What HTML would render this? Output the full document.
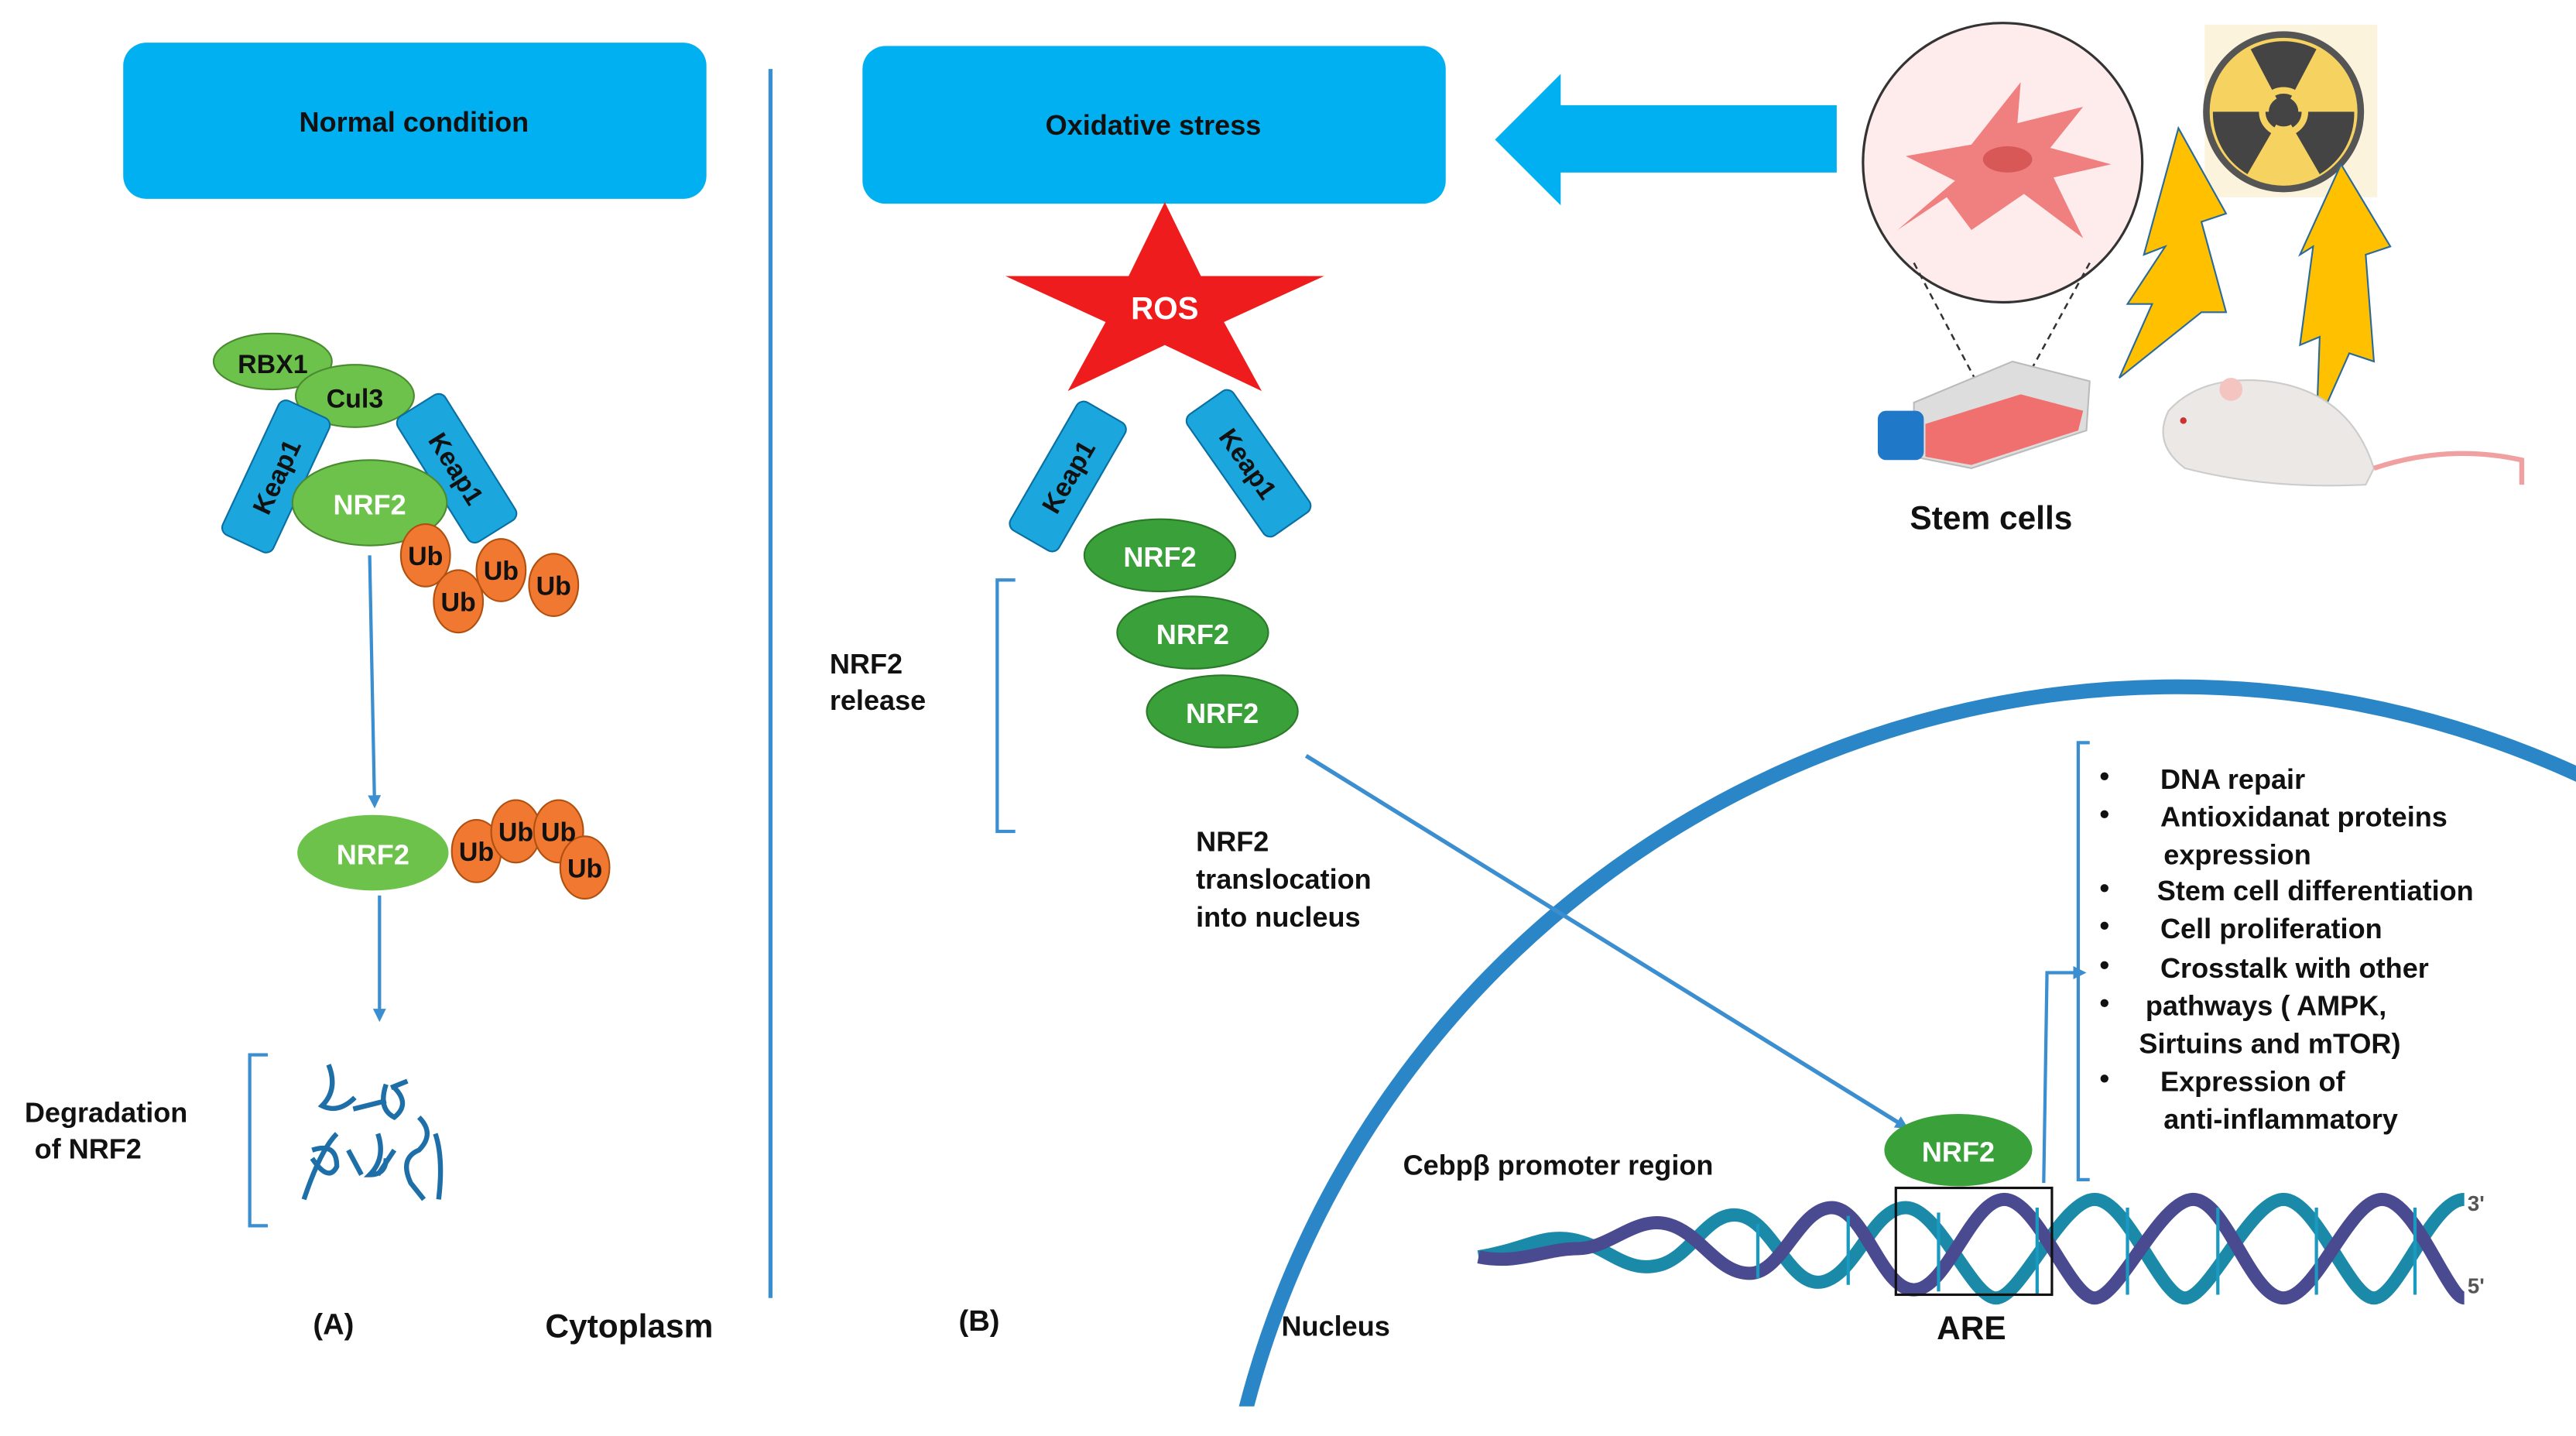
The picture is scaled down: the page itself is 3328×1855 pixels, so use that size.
<!DOCTYPE html>
<html><head><meta charset="utf-8"><style>
html,body{margin:0;padding:0;background:#fff;overflow:hidden;width:3328px;height:1855px;}
svg{display:block;}
text{font-family:"Liberation Sans",sans-serif;font-weight:bold;}
</style></head><body>
<svg width="3328" height="1855" viewBox="0 0 1568 874" xmlns="http://www.w3.org/2000/svg">
<defs>
<marker id="ah" markerWidth="8" markerHeight="8" refX="6" refY="4" orient="auto" markerUnits="userSpaceOnUse"><path d="M0,0 L8,4 L0,8 z" fill="#3b8fd0"/></marker>
<clipPath id="cl"><rect x="0" y="0" width="1568" height="856"/></clipPath>
</defs>
<rect x="75" y="26" width="355" height="95" rx="14" fill="#00b0f0"/>
<text x="252" y="80" font-size="17" text-anchor="middle" fill="#111">Normal condition</text>
<rect x="525" y="28" width="355" height="96" rx="14" fill="#00b0f0"/>
<text x="702" y="82" font-size="17" text-anchor="middle" fill="#111">Oxidative stress</text>
<path d="M1118,64 L950,64 L950,45 L910,85 L950,125 L950,105 L1118,105 z" fill="#00b0f0"/>
<line x1="469" y1="42" x2="469" y2="790" stroke="#3b8fd0" stroke-width="2.5"/>
<ellipse cx="166" cy="220" rx="36" ry="17" fill="#6cc24a" stroke="#4a8a30"/>
<text x="166" y="227" font-size="16" text-anchor="middle" fill="#111" font-weight="normal">RBX1</text>
<ellipse cx="216" cy="241" rx="36" ry="19" fill="#6cc24a" stroke="#4a8a30"/>
<text x="216" y="248" font-size="16" text-anchor="middle" fill="#111" font-weight="normal">Cul3</text>
<g transform="translate(168,290) rotate(-65)"><rect x="-45" y="-17" width="90" height="34" rx="5" fill="#1ba6de" stroke="#0a6fa0"/><text x="0" y="6" font-size="16" text-anchor="middle" fill="#111" font-weight="normal">Keap1</text></g>
<g transform="translate(278,285) rotate(58)"><rect x="-45" y="-17" width="90" height="34" rx="5" fill="#1ba6de" stroke="#0a6fa0"/><text x="0" y="6" font-size="16" text-anchor="middle" fill="#111" font-weight="normal">Keap1</text></g>
<ellipse cx="225" cy="306" rx="47" ry="26" fill="#6cc24a" stroke="#4a8a30"/>
<text x="225" y="313" font-size="17" text-anchor="middle" fill="#fff">NRF2</text>
<g fill="#f07830" stroke="#b05010">
<ellipse cx="259" cy="338" rx="15" ry="19"/><ellipse cx="279" cy="366" rx="15" ry="19"/><ellipse cx="305" cy="347" rx="15" ry="19"/><ellipse cx="337" cy="356" rx="15" ry="19"/></g>
<g font-size="16" text-anchor="middle" fill="#111" font-weight="normal">
<text x="259" y="344">Ub</text><text x="279" y="372">Ub</text><text x="305" y="353">Ub</text><text x="337" y="362">Ub</text></g>
<line x1="225" y1="338" x2="228" y2="490" stroke="#3b8fd0" stroke-width="2" marker-end="url(#ah)"/>
<ellipse cx="227" cy="519" rx="46" ry="23" fill="#6cc24a"/>
<text x="227" y="526" font-size="17" text-anchor="middle" fill="#fff">NRF2</text>
<g fill="#f07830" stroke="#b05010">
<ellipse cx="290" cy="518" rx="15" ry="19"/><ellipse cx="314" cy="506" rx="15" ry="19"/><ellipse cx="340" cy="506" rx="15" ry="19"/><ellipse cx="356" cy="528" rx="15" ry="19"/></g>
<g font-size="16" text-anchor="middle" fill="#111" font-weight="normal">
<text x="290" y="524">Ub</text><text x="314" y="512">Ub</text><text x="340" y="512">Ub</text><text x="356" y="534">Ub</text></g>
<line x1="231" y1="545" x2="231" y2="620" stroke="#3b8fd0" stroke-width="2" marker-end="url(#ah)"/>
<path d="M163,642 L152,642 L152,746 L163,746" fill="none" stroke="#3b8fd0" stroke-width="2"/>
<text x="15" y="683" font-size="17" fill="#111">Degradation</text>
<text x="21" y="705" font-size="17" fill="#111">of NRF2</text>
<g fill="none" stroke="#1e6fa8" stroke-width="3">
<path d="M200,648 q6,15 -4,25 q10,5 20,-5"/><path d="M235,660 q-5,15 5,20 q10,-8 0,-18"/><path d="M205,690 q-10,10 -20,40"/><path d="M190,700 q15,-5 15,10 q-5,10 -15,-5"/><path d="M230,690 q5,15 -5,25 q10,0 10,-10"/><path d="M255,680 q10,10 0,20 q-12,5 -5,20 l8,10"/><path d="M265,690 q5,15 2,40"/><path d="M215,675 l20,-5 M240,700 l-10,15"/><path d="M238,662 l10,-4 M212,700 l8,15"/></g>
<text x="203" y="812" font-size="18" text-anchor="middle" fill="#111">(A)</text>
<text x="383" y="814" font-size="20" text-anchor="middle" fill="#111">Cytoplasm</text>
<polygon points="709,123 731,168 806,168 745,196 768,238 709,210 650,238 673,196 612,168 687,168" fill="#ee1c1c"/>
<text x="709" y="194" font-size="19" text-anchor="middle" fill="#fff">ROS</text>
<g transform="translate(650,290) rotate(-60)"><rect x="-45" y="-17" width="90" height="34" rx="5" fill="#1ba6de" stroke="#0a6fa0"/><text x="0" y="6" font-size="16" text-anchor="middle" fill="#111" font-weight="normal">Keap1</text></g>
<g transform="translate(760,282) rotate(55)"><rect x="-45" y="-17" width="90" height="34" rx="5" fill="#1ba6de" stroke="#0a6fa0"/><text x="0" y="6" font-size="16" text-anchor="middle" fill="#111" font-weight="normal">Keap1</text></g>
<g fill="#3aa03a" stroke="#2a7a2a">
<ellipse cx="706" cy="338" rx="46" ry="22"/><ellipse cx="726" cy="385" rx="46" ry="22"/><ellipse cx="744" cy="433" rx="46" ry="22"/></g>
<g font-size="17" text-anchor="middle" fill="#fff">
<text x="706" y="345">NRF2</text><text x="726" y="392">NRF2</text><text x="744" y="440">NRF2</text></g>
<path d="M618,353 L607,353 L607,506 L618,506" fill="none" stroke="#3b8fd0" stroke-width="2"/>
<text x="505" y="410" font-size="17" fill="#111" font-weight="normal">NRF2</text>
<text x="505" y="432" font-size="17" fill="#111" font-weight="normal">release</text>
<text x="728" y="518" font-size="17" fill="#111" font-weight="normal">NRF2</text>
<text x="728" y="541" font-size="17" fill="#111" font-weight="normal">translocation</text>
<text x="728" y="564" font-size="17" fill="#111" font-weight="normal">into nucleus</text>
<text x="596" y="810" font-size="18" text-anchor="middle" fill="#111">(B)</text>
<circle cx="1325" cy="1003" r="585" fill="none" stroke="#2a86c6" stroke-width="9" clip-path="url(#cl)"/>
<text x="780" y="813" font-size="17" fill="#111" font-weight="normal">Nucleus</text>
<line x1="795" y1="460" x2="1160" y2="686" stroke="#3b8fd0" stroke-width="2.5" marker-end="url(#ah)"/>
<g clip-path="url(#cl)">
<path d="M900,765 C930,760 940,750 960,755 S990,775 1010,770 S1040,735 1060,740 S1090,785 1110,780 S1140,735 1160,735 S1200,790 1215,790 S1255,730 1275,730 S1315,790 1330,790 S1370,730 1390,730 S1430,790 1445,790 S1480,730 1500,730" fill="none" stroke="#1a8aa8" stroke-width="8"/>
<path d="M900,765 C925,770 940,760 960,760 S995,740 1015,745 S1045,775 1065,775 S1095,735 1115,735 S1145,785 1165,785 S1200,730 1220,730 S1260,790 1275,790 S1315,730 1335,730 S1370,790 1390,790 S1430,730 1450,730 S1490,790 1500,790" fill="none" stroke="#4a4a90" stroke-width="8"/>
<g stroke="#1a9ac0" stroke-width="2">
<line x1="1070" y1="745" x2="1070" y2="778"/><line x1="1125" y1="740" x2="1125" y2="782"/><line x1="1180" y1="738" x2="1180" y2="786"/><line x1="1240" y1="735" x2="1240" y2="788"/><line x1="1295" y1="735" x2="1295" y2="788"/><line x1="1350" y1="735" x2="1350" y2="788"/><line x1="1410" y1="735" x2="1410" y2="788"/><line x1="1470" y1="735" x2="1470" y2="788"/></g>
</g>
<rect x="1154" y="723" width="95" height="65" fill="none" stroke="#111" stroke-width="1.5"/>
<text x="1502" y="737" font-size="13" fill="#555" font-weight="normal">3'</text>
<text x="1502" y="787" font-size="13" fill="#555" font-weight="normal">5'</text>
<text x="1200" y="815" font-size="20" text-anchor="middle" fill="#111">ARE</text>
<text x="854" y="715" font-size="17" fill="#111" font-weight="normal">Cebpβ promoter region</text>
<ellipse cx="1192" cy="700" rx="45" ry="22" fill="#3aa03a"/>
<text x="1192" y="707" font-size="17" text-anchor="middle" fill="#fff">NRF2</text>
<path d="M1244,720 L1246,592 L1268,592" fill="none" stroke="#3b8fd0" stroke-width="2" marker-end="url(#ah)"/>
<path d="M1272,452 L1265,452 L1265,718 L1272,718" fill="none" stroke="#3b8fd0" stroke-width="2"/>
<g font-size="17" fill="#111" font-weight="normal">
<text x="1278" y="478">•</text><text x="1315" y="480">DNA repair</text>
<text x="1278" y="501">•</text><text x="1315" y="503">Antioxidanat proteins</text>
<text x="1317" y="526">expression</text>
<text x="1278" y="546">•</text><text x="1313" y="548">Stem cell differentiation</text>
<text x="1278" y="569">•</text><text x="1315" y="571">Cell proliferation</text>
<text x="1278" y="593">•</text><text x="1315" y="595">Crosstalk with other</text>
<text x="1278" y="616">•</text><text x="1306" y="618">pathways ( AMPK,</text>
<text x="1302" y="641">Sirtuins and mTOR)</text>
<text x="1278" y="662">•</text><text x="1315" y="664">Expression of</text>
<text x="1317" y="687">anti-inflammatory</text>
</g>
<ellipse cx="1219" cy="99" rx="85" ry="85" fill="#fdeceb" stroke="#333" stroke-width="1.5"/>
<path d="M1155,140 L1190,110 L1160,95 L1200,88 L1230,50 L1228,75 L1268,65 L1248,90 L1285,100 L1250,108 L1268,145 L1232,118 L1200,140 L1185,120 z" fill="#f08080"/>
<ellipse cx="1222" cy="97" rx="15" ry="8" fill="#d85858"/>
<path d="M1165,160 L1215,255 M1272,160 L1220,255" stroke="#333" stroke-dasharray="4,3" stroke-width="1.2"/>
<path d="M1165,245 L1225,220 L1272,232 L1270,262 L1200,285 L1165,278 z" fill="#ddd" stroke="#bbb"/>
<path d="M1172,258 L1230,240 L1268,250 L1265,262 L1200,283 L1172,278 z" fill="#f07070"/>
<rect x="1143" y="250" width="28" height="30" rx="5" fill="#1f78c8"/>
<rect x="1342" y="15" width="105" height="105" fill="#fcf3dd"/>
<circle cx="1390" cy="68" r="47" fill="#f6d260" stroke="#555" stroke-width="4"/>
<g fill="#444"><path d="M1390,68 L1370,30 A43,43 0 0 1 1410,30 z"/><path d="M1390,68 L1433,68 A43,43 0 0 1 1412,106 z"/><path d="M1390,68 L1368,106 A43,43 0 0 1 1347,68 z"/><circle cx="1390" cy="68" r="9"/></g>
<circle cx="1390" cy="68" r="13" fill="none" stroke="#f6d260" stroke-width="4"/>
<polygon points="1326,78 1355,130 1340,135 1355,190 1340,190 1290,230 1310,185 1295,185 1318,150 1305,155" fill="#ffc000" stroke="#2a6a9a"/>
<polygon points="1425,100 1455,150 1440,155 1445,220 1430,215 1410,260 1412,205 1400,210 1408,150 1400,155" fill="#ffc000" stroke="#2a6a9a"/>
<path d="M1320,250 Q1340,228 1380,232 Q1430,238 1445,285 L1440,295 Q1380,298 1330,285 Q1310,270 1320,250 z" fill="#ebe8e6" stroke="#ccc"/>
<circle cx="1358" cy="237" r="7" fill="#f4c4c0"/>
<circle cx="1329" cy="256" r="2" fill="#c33"/>
<path d="M1445,285 Q1490,270 1535,280 L1535,295" fill="none" stroke="#f0a0a0" stroke-width="3"/>
<text x="1212" y="322" font-size="20" text-anchor="middle" fill="#111">Stem cells</text>
</svg>
</body></html>
